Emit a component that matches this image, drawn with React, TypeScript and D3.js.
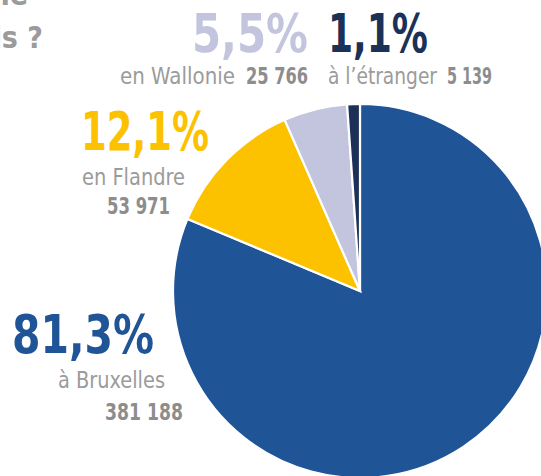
import React from 'react';
import * as d3 from 'd3';

// where do they live
const regions = ['Bruxelles', 'Flandre', 'Wallonie', 'étranger'];
const shares = [81.3, 12.1, 5.5, 1.1];
const counts = ['381 188', '53 971', '25 766', '5 139'];
const colors = ['#1f5497', '#fcc200', '#c3c5de', '#1c3158'];

const W = 541;
const H = 476;
const cx = 360;
const cy = 291;
const R = 187;

const font = "'DejaVu Sans Condensed', 'Liberation Sans Narrow', sans-serif";
const gray = '#9b9b9b';
const grayBold = '#8d8d8d';

type LabelProps = { x: number; y: number; w: number; size: number; bold?: boolean; fill: string; children: string };

function Label({ x, y, w, size, bold, fill, children }: LabelProps) {
  return (
    <text x={x} y={y} fontSize={size} fontWeight={bold ? 'bold' : 'normal'} fill={fill}
      textLength={w} lengthAdjust="spacingAndGlyphs">{children}</text>
  );
}

export default function App() {
  const pie = d3.pie<number>().sort(null).startAngle(0).endAngle(2 * Math.PI);
  const arcs = pie(shares);
  const arc = d3.arc<d3.PieArcDatum<number>>().innerRadius(0).outerRadius(R);

  return (
    <svg width={W} height={H} style={{ position: 'absolute', left: 0, top: 0, background: '#fff' }}
      fontFamily={font}>
      {/* title, cut off by the crop */}
      <text x={28} y={5} textAnchor="end" fontSize={30} fontWeight="bold" fill={gray}>une</text>
      <text x={43} y={48} textAnchor="end" fontSize={30} fontWeight="bold" fill={gray}>depuis ?</text>

      <g transform={`translate(${cx},${cy})`}>
        {arcs.map((a, i) => (
          <path key={regions[i]} d={arc(a) || ''} fill={colors[i]} stroke="#fff" strokeWidth={2.2} strokeLinejoin="miter" />
        ))}
      </g>

      {/* Wallonie */}
      <Label x={192} y={52} w={116} size={54} bold fill={colors[2]}>5,5%</Label>
      <Label x={120} y={84} w={115} size={23} fill={gray}>en Wallonie</Label>
      <Label x={246} y={84} w={62} size={23} bold fill={grayBold}>{counts[2]}</Label>

      {/* étranger */}
      <Label x={328} y={52} w={100} size={54} bold fill={colors[3]}>1,1%</Label>
      <Label x={328} y={84} w={109} size={23} fill={gray}>à l’étranger</Label>
      <Label x={447} y={84} w={45} size={23} bold fill={grayBold}>{counts[3]}</Label>

      {/* Flandre */}
      <Label x={81} y={150} w={128} size={54} bold fill={colors[1]}>12,1%</Label>
      <Label x={82} y={185} w={103} size={23} fill={gray}>en Flandre</Label>
      <Label x={107} y={214} w={63} size={23} bold fill={grayBold}>{counts[1]}</Label>

      {/* Bruxelles */}
      <Label x={12} y={353} w={142} size={54} bold fill={colors[0]}>81,3%</Label>
      <Label x={58} y={388} w={107} size={23} fill={gray}>à Bruxelles</Label>
      <Label x={105} y={420} w={78} size={23} bold fill={grayBold}>{counts[0]}</Label>
    </svg>
  );
}
